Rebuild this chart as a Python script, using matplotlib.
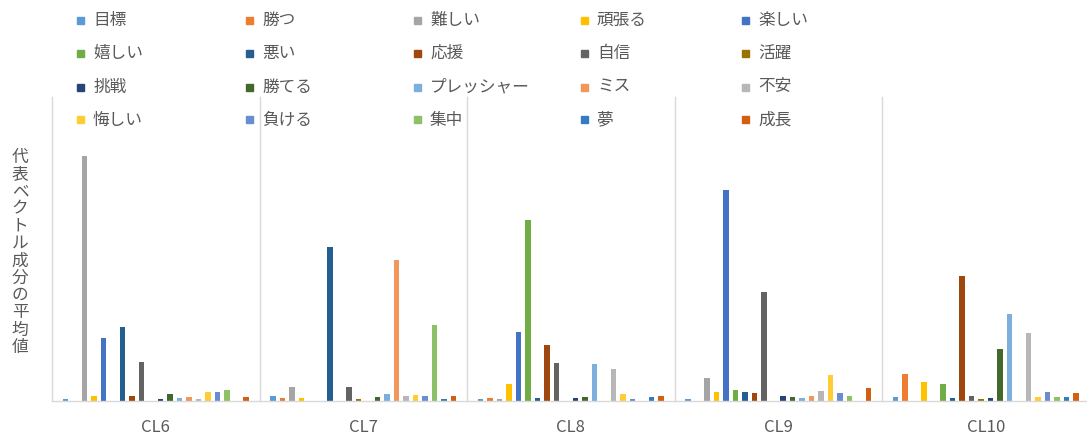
import matplotlib
matplotlib.use("Agg")
import matplotlib.pyplot as plt
import matplotlib.transforms as mtransforms
from matplotlib.patches import Rectangle
import numpy as np

plt.rcParams['font.family'] = ['Noto Sans CJK JP', 'DejaVu Sans']

# Clusters (x categories)
clusters = ["CL6", "CL7", "CL8", "CL9", "CL10"]

# Keywords (series), in legend order
keywords = ["目標", "勝つ", "難しい", "頑張る", "楽しい",
            "嬉しい", "悪い", "応援", "自信", "活躍",
            "挑戦", "勝てる", "プレッシャー", "ミス", "不安",
            "悔しい", "負ける", "集中", "夢", "成長"]

colors = ["#5B9BD5", "#ED7D31", "#A5A5A5", "#FFC000", "#4472C4",
          "#70AD47", "#255E91", "#9E480E", "#636363", "#997300",
          "#264478", "#43682B", "#7CAFDD", "#F1975A", "#B7B7B7",
          "#FFCD33", "#698ED0", "#8CC168", "#327DC2", "#D26012"]

# Mean representative-vector component per keyword, for each cluster
cl6 = [0.0010, 0.0000, 0.2010, 0.0035, 0.0513, 0.0000, 0.0604, 0.0035, 0.0316, 0.0000,
       0.0010, 0.0052, 0.0022, 0.0027, 0.0014, 0.0068, 0.0066, 0.0088, 0.0000, 0.0027]
cl7 = [0.0035, 0.0022, 0.0110, 0.0022, 0.0000, 0.0000, 0.1266, 0.0000, 0.0110, 0.0011,
       0.0000, 0.0027, 0.0052, 0.1156, 0.0035, 0.0047, 0.0041, 0.0620, 0.0011, 0.0041]
cl8 = [0.0011, 0.0019, 0.0011, 0.0134, 0.0563, 0.1486, 0.0019, 0.0459, 0.0307, 0.0000,
       0.0019, 0.0027, 0.0297, 0.0000, 0.0261, 0.0052, 0.0011, 0.0000, 0.0025, 0.0041]
cl9 = [0.0011, 0.0000, 0.0187, 0.0068, 0.1736, 0.0088, 0.0066, 0.0058, 0.0892, 0.0000,
       0.0041, 0.0025, 0.0019, 0.0035, 0.0082, 0.0208, 0.0058, 0.0035, 0.0000, 0.0107]
cl10 = [0.0027, 0.0220, 0.0000, 0.0151, 0.0000, 0.0140, 0.0019, 0.1022, 0.0035, 0.0011,
        0.0019, 0.0423, 0.0709, 0.0000, 0.0558, 0.0025, 0.0068, 0.0027, 0.0027, 0.0058]

ylabel = "代表ベクトル成分の平均値"

values = np.array([cl6, cl7, cl8, cl9, cl10])  # shape (cluster, keyword)

W, H = 1087, 437
TEXT = "#595959"
GRID = "#D9D9D9"

fig = plt.figure(figsize=(W / 100, H / 100), dpi=100)
ax = fig.add_axes([52 / W, (H - 400.5) / H, (1089.5 - 52) / W, (400.5 - 97) / H])

n = len(keywords)
x = np.arange(len(clusters))
slot = 9.5 / 207.5
bar_w = 5.2 / 207.5
for i in range(n):
    ax.bar(x + (i - (n - 1) / 2) * slot, values[:, i], width=bar_w,
           color=colors[i], label=keywords[i], zorder=2)

ax.set_xlim(-0.5, len(clusters) - 0.5)
ax.set_ylim(0, 0.25)

# category separators
trans = mtransforms.blended_transform_factory(ax.transData, ax.transAxes)
for b in np.arange(-0.5, len(clusters)):
    ax.plot([b, b], [0, 1], transform=trans, color=GRID, lw=1.0,
            clip_on=False, zorder=1)

for s in ["top", "right", "left"]:
    ax.spines[s].set_visible(False)
ax.spines["bottom"].set_color(GRID)
ax.spines["bottom"].set_linewidth(1.0)
ax.set_yticks([])
ax.set_xticks(x)
ax.set_xticklabels(clusters)
ax.tick_params(axis="x", length=0, pad=13, labelsize=12, labelcolor=TEXT)

# vertical (stacked) axis title
y0, step = 157, 17.3
for k, ch in enumerate(ylabel):
    fig.text(20 / W, 1 - (y0 + k * step) / H, ch, ha="center", va="center",
             fontsize=12, color=TEXT)

# legend: 5 columns x 4 rows
marker_x = [77, 246, 414, 581, 742]
row_y = [20, 53.5, 87, 120]
msz = 7
for i, name in enumerate(keywords):
    r, c = divmod(i, 5)
    mx, my = marker_x[c], row_y[r]
    fig.add_artist(Rectangle((mx / W, 1 - (my + msz / 2) / H), msz / W, msz / H,
                             transform=fig.transFigure, color=colors[i]))
    fig.text((mx + 16) / W, 1 - my / H, name, ha="left", va="center",
             fontsize=12, color=TEXT)

fig.savefig("out.png", dpi=100)
